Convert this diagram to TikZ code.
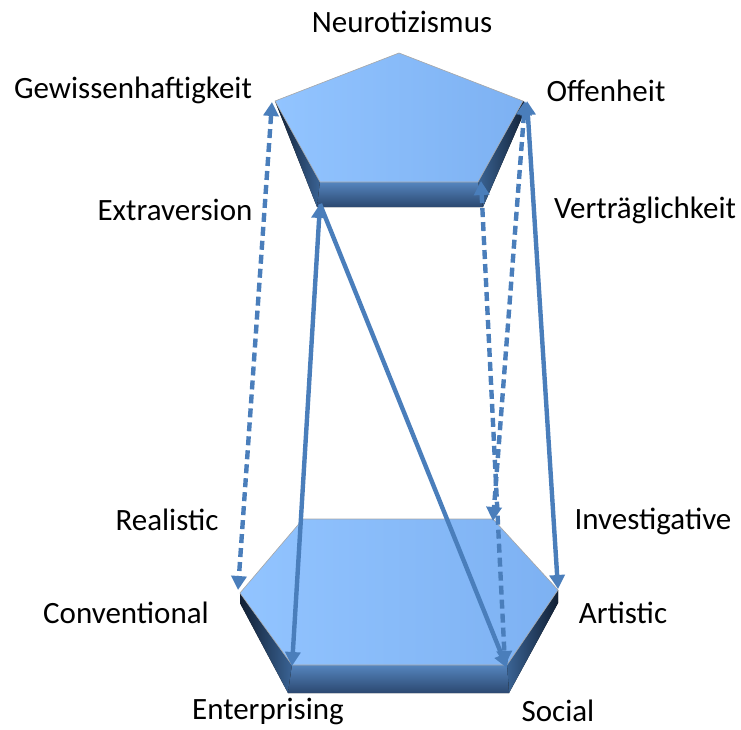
\documentclass[tikz,border=0pt]{standalone}
\usepackage{fontspec}
\setmainfont{Carlito}
\usetikzlibrary{arrows.meta}
\definecolor{arr}{HTML}{4A7EBB}
\definecolor{faceL}{HTML}{92C4FF}
\definecolor{faceR}{HTML}{7DB1F2}
\definecolor{bevD}{HTML}{111F33}
\definecolor{bevM}{HTML}{3A6394}
\definecolor{bandT}{HTML}{5585BE}
\definecolor{bandB}{HTML}{2B4870}
\tikzset{
  lbl/.style={font=\fontsize{31}{31}\selectfont, text=black, inner sep=0pt},
  face/.style={left color=faceL, right color=faceR, draw=gray!70, line width=0.6pt},
  lbev/.style={left color=bevD, right color=bevM},
  rbev/.style={left color=bevM, right color=bevD},
  band/.style={top color=bandT, bottom color=bandB},
  link/.style={draw=arr, line width=4.4pt, -{Triangle[length=14pt,width=15pt]}},
  linkb/.style={draw=arr, line width=4.4pt, {Triangle[length=14pt,width=15pt]}-{Triangle[length=14pt,width=15pt]}},
  dsh/.style={dash pattern=on 9pt off 5pt}
}
\begin{document}
\begin{tikzpicture}[x=1pt,y=-1pt]
\useasboundingbox (0,0) rectangle (741,729);
% pentagon coordinates
\coordinate (PT) at (399,53);
\coordinate (PR) at (523,101);
\coordinate (PBR) at (478,182);
\coordinate (PBL) at (320,182);
\coordinate (PL) at (275,101);
\coordinate (POBL) at (317,207);
\coordinate (POBR) at (483,207);
\coordinate (PR2) at (527,106);
% hexagon coordinates
\coordinate (HTL) at (303,519);
\coordinate (HTR) at (493,519);
\coordinate (HR) at (558,590);
\coordinate (HBR) at (507,665);
\coordinate (HBL) at (292,665);
\coordinate (HL) at (240,593);
\coordinate (HL2) at (240,603);
\coordinate (HR2) at (558,603);
\coordinate (HOBL) at (288,693);
\coordinate (HOBR) at (509,693);
% pentagon solid
\fill[lbev] (PL) -- (PBL) -- (POBL) -- cycle;
\fill[rbev] (PR) -- (PR2) -- (POBR) -- (PBR) -- cycle;
\fill[band] (PBL) -- (PBR) -- (POBR) -- (POBL) -- cycle;
\draw[face] (PT) -- (PR) -- (PBR) -- (PBL) -- (PL) -- cycle;
% hexagon solid
\fill[lbev] (HL) -- (HBL) -- (HOBL) -- (HL2) -- cycle;
\fill[rbev] (HR) -- (HR2) -- (HOBR) -- (HBR) -- cycle;
\fill[band] (HBL) -- (HBR) -- (HOBR) -- (HOBL) -- cycle;
\draw[face] (HTL) -- (HTR) -- (HR) -- (HBR) -- (HBL) -- (HL) -- cycle;
% arrow endpoints
\coordinate (aG) at (272,102);
\coordinate (aC) at (238,590);
\coordinate (aE) at (320,204);
\coordinate (aEn) at (292,666);
\coordinate (aS) at (507,668);
\coordinate (aV) at (481,181);
\coordinate (aS2) at (505,665);
\coordinate (aO1) at (525,101);
\coordinate (aI) at (493,521);
\coordinate (aO2) at (527,101);
\coordinate (aA) at (558,589);
% connectors
\draw[linkb,dsh] (aG) -- (aC);
\draw[linkb] (aE) -- (aEn);
\draw[link] (aE) -- (aS);
\draw[linkb,dsh] (aV) -- (aS2);
\draw[linkb,dsh] (aO1) -- (aI);
\draw[linkb] (aO2) -- (aA);
% labels
\node[lbl] (n) at (402,22) {Neurotizismus};
\node[lbl] (g) at (133,90) {Gewissenhaftigkeit};
\node[lbl] (o) at (606,91) {Offenheit};
\node[lbl] (e) at (175,210) {Extraversion};
\node[lbl] (v) at (645,210) {Verträglichkeit};
\node[lbl] (r) at (167,520) {Realistic};
\node[lbl] (i) at (653,521) {Investigative};
\node[lbl] (c) at (126,613) {Conventional};
\node[lbl] (a) at (623,613) {Artistic};
\node[lbl] (en) at (268,711) {Enterprising};
\node[lbl] (s) at (558,711) {Social};
\end{tikzpicture}
\end{document}
